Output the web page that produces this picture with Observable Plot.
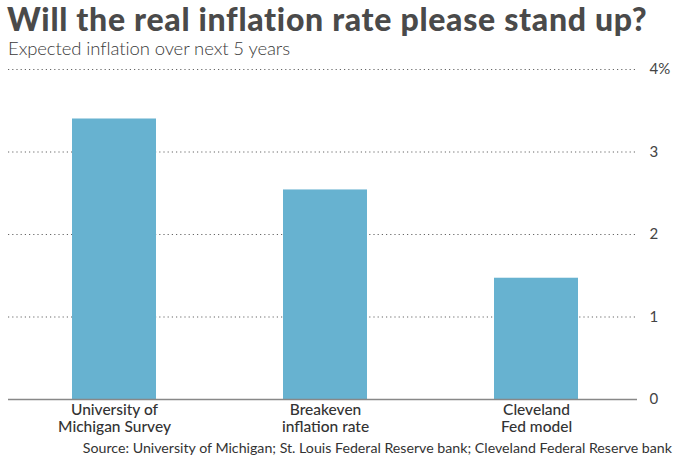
<!DOCTYPE html>
<html>
<head>
<meta charset="utf-8">
<script src="https://cdn.jsdelivr.net/npm/d3@7"></script>
<script src="https://cdn.jsdelivr.net/npm/@observablehq/plot@0.6"></script>
<style>
  html, body { margin: 0; padding: 0; background: #fff; }
  #wrap { position: relative; width: 680px; height: 458px; font-family: Lato, "Open Sans", sans-serif; overflow: hidden; }
  #title { position: absolute; left: 7px; top: 5px; font-size: 32px; font-weight: 900; color: #4a4a4a; line-height: 28px; white-space: nowrap; letter-spacing: 0.7px; }
  #subtitle { position: absolute; left: 8px; top: 38px; font-size: 18.5px; font-weight: 300; color: #3a3a3a; line-height: 20px; white-space: nowrap; letter-spacing: -0.1px; }
  #chart { position: absolute; left: 0; top: 58px; }
  #source { position: absolute; right: 8px; top: 439px; font-size: 14.2px; color: #333; line-height: 18px; white-space: nowrap; }
</style>
</head>
<body>
<div id="wrap">
  <div id="title">Will the real inflation rate please stand up?</div>
  <div id="subtitle">Expected inflation over next 5 years</div>
  <div id="chart"></div>
  <div id="source">Source: University of Michigan; St. Louis Federal Reserve bank; Cleveland Federal Reserve bank</div>
</div>
<script>
const categories = ["University of\nMichigan Survey", "Breakeven\ninflation rate", "Cleveland\nFed model"];
const values = [3.4, 2.54, 1.47];
const yTicks = [1, 2, 3, 4];

const data = categories.map((c, i) => ({category: c, value: values[i]}));

const chart = Plot.plot({
  width: 680,
  height: 380,
  marginLeft: 8,
  marginRight: 37,
  marginTop: 11,
  marginBottom: 39,
  style: {fontFamily: "Lato, 'Open Sans', sans-serif", background: "transparent"},
  x: {domain: categories, paddingInner: 0.6, paddingOuter: 0.3, label: null},
  y: {domain: [0, 4], label: null},
  marks: [
    Plot.ruleY(yTicks, {stroke: "#666", strokeWidth: 1.1, strokeDasharray: "1.2,3", insetRight: 6}),
    Plot.barY(data, {x: "category", y: "value", fill: "#67b2d0"}),
    Plot.ruleY([0], {stroke: "#888", strokeWidth: 1.5, insetRight: 6}),
    Plot.axisY([0, ...yTicks], {anchor: "right", tickSize: 0, tickPadding: 6, fontSize: 15, fill: "#444",
      tickFormat: d => d === 4 ? "4%" : String(d), label: null}),
    Plot.axisX({tickSize: 0, tickPadding: 4, fontSize: 15.5, fontWeight: 500, fill: "#333", lineHeight: 1.08, label: null})
  ]
});
document.getElementById("chart").appendChild(chart);
</script>
</body>
</html>
